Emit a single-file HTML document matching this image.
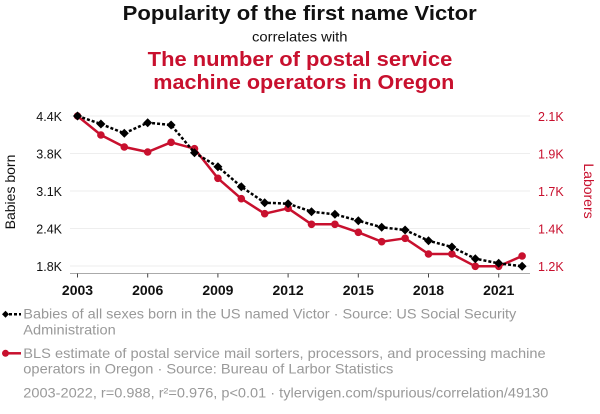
<!DOCTYPE html>
<html>
<head>
<meta charset="utf-8">
<style>
html,body{margin:0;padding:0;background:#fff;}
body{width:600px;height:414px;overflow:hidden;}
svg{display:block;font-family:"Liberation Sans",Arial,sans-serif;}
</style>
</head>
<body>
<svg width="600" height="414" viewBox="0 0 600 414" xmlns="http://www.w3.org/2000/svg">
  <!-- Titles -->
  <text x="122.7" y="20" font-size="20" font-weight="bold" fill="#111" textLength="354" lengthAdjust="spacingAndGlyphs">Popularity of the first name Victor</text>
  <text x="252" y="41.5" font-size="14" fill="#111" textLength="95.5" lengthAdjust="spacingAndGlyphs">correlates with</text>
  <text x="147.7" y="66" font-size="20" font-weight="bold" fill="#c8102e" textLength="304.6" lengthAdjust="spacingAndGlyphs">The number of postal service</text>
  <text x="153.3" y="89" font-size="20" font-weight="bold" fill="#c8102e" textLength="301" lengthAdjust="spacingAndGlyphs">machine operators in Oregon</text>

  <!-- Gridlines -->
  <g stroke="#eeeeee" stroke-width="1">
    <line x1="70" y1="116" x2="530" y2="116"/>
    <line x1="70" y1="153.5" x2="530" y2="153.5"/>
    <line x1="70" y1="191" x2="530" y2="191"/>
    <line x1="70" y1="228.5" x2="530" y2="228.5"/>
    <line x1="70" y1="266" x2="530" y2="266"/>
  </g>
  <!-- x axis -->
  <line x1="70" y1="273.5" x2="530" y2="273.5" stroke="#aaaaaa" stroke-width="1"/>
  <g stroke="#444" stroke-width="1">
    <line x1="77.5" y1="273.5" x2="77.5" y2="277.5"/>
    <line x1="147.7" y1="273.5" x2="147.7" y2="277.5"/>
    <line x1="217.9" y1="273.5" x2="217.9" y2="277.5"/>
    <line x1="288.1" y1="273.5" x2="288.1" y2="277.5"/>
    <line x1="358.3" y1="273.5" x2="358.3" y2="277.5"/>
    <line x1="428.5" y1="273.5" x2="428.5" y2="277.5"/>
    <line x1="498.7" y1="273.5" x2="498.7" y2="277.5"/>
  </g>
  <g font-size="14" font-weight="bold" fill="#111" text-anchor="middle">
    <text x="77.5" y="295">2003</text>
    <text x="147.7" y="295">2006</text>
    <text x="217.9" y="295">2009</text>
    <text x="288.1" y="295">2012</text>
    <text x="358.3" y="295">2015</text>
    <text x="428.5" y="295">2018</text>
    <text x="498.7" y="295">2021</text>
  </g>

  <!-- Left tick labels -->
  <g font-size="12.5" fill="#111" text-anchor="end">
    <text x="62" y="121">4.4K</text>
    <text x="62" y="158.5">3.8K</text>
    <text x="62" y="196">3.1K</text>
    <text x="62" y="233.5">2.4K</text>
    <text x="62" y="271">1.8K</text>
  </g>
  <!-- Right tick labels -->
  <g font-size="12.5" fill="#c8102e" text-anchor="start">
    <text x="538" y="121">2.1K</text>
    <text x="538" y="158.5">1.9K</text>
    <text x="538" y="196">1.7K</text>
    <text x="538" y="233.5">1.4K</text>
    <text x="538" y="271">1.2K</text>
  </g>

  <!-- Axis titles -->
  <text transform="translate(15,192) rotate(-90)" text-anchor="middle" font-size="14" fill="#111">Babies born</text>
  <text transform="translate(584,191) rotate(90)" text-anchor="middle" font-size="14" fill="#c8102e">Laborers</text>

  <!-- Red series -->
  <polyline fill="none" stroke="#c8102e" stroke-width="2.5" stroke-linejoin="round"
    points="77.5,116 100.9,135 124.3,147 147.7,152 171.1,142.3 194.5,148.7 217.9,178.3 241.3,198.7 264.7,213.7 288.1,208.3 311.5,224.3 334.9,224.3 358.3,232.3 381.7,241.7 405.1,238.3 428.5,254 451.9,254 475.3,266.3 498.7,266.3 522.1,256"/>
  <g fill="#c8102e">
    <circle cx="77.5" cy="116" r="3.8"/>
    <circle cx="100.9" cy="135" r="3.8"/>
    <circle cx="124.3" cy="147" r="3.8"/>
    <circle cx="147.7" cy="152" r="3.8"/>
    <circle cx="171.1" cy="142.3" r="3.8"/>
    <circle cx="194.5" cy="148.7" r="3.8"/>
    <circle cx="217.9" cy="178.3" r="3.8"/>
    <circle cx="241.3" cy="198.7" r="3.8"/>
    <circle cx="264.7" cy="213.7" r="3.8"/>
    <circle cx="288.1" cy="208.3" r="3.8"/>
    <circle cx="311.5" cy="224.3" r="3.8"/>
    <circle cx="334.9" cy="224.3" r="3.8"/>
    <circle cx="358.3" cy="232.3" r="3.8"/>
    <circle cx="381.7" cy="241.7" r="3.8"/>
    <circle cx="405.1" cy="238.3" r="3.8"/>
    <circle cx="428.5" cy="254" r="3.8"/>
    <circle cx="451.9" cy="254" r="3.8"/>
    <circle cx="475.3" cy="266.3" r="3.8"/>
    <circle cx="498.7" cy="266.3" r="3.8"/>
    <circle cx="522.1" cy="256" r="3.8"/>
  </g>

  <!-- Black series -->
  <polyline fill="none" stroke="#000" stroke-width="2.5" stroke-dasharray="3 2"
    points="77.5,116 100.9,124 124.3,133.3 147.7,122.7 171.1,125 194.5,152.7 217.9,166.7 241.3,186.7 264.7,202.7 288.1,203.7 311.5,211.7 334.9,214.3 358.3,220.7 381.7,227.3 405.1,230 428.5,240.7 451.9,247 475.3,258.7 498.7,263.3 522.1,266.3"/>
  <g fill="#000">
    <path d="M77.5,111.5 l4.5,4.5 l-4.5,4.5 l-4.5,-4.5z"/>
    <path d="M100.9,119.5 l4.5,4.5 l-4.5,4.5 l-4.5,-4.5z"/>
    <path d="M124.3,128.8 l4.5,4.5 l-4.5,4.5 l-4.5,-4.5z"/>
    <path d="M147.7,118.2 l4.5,4.5 l-4.5,4.5 l-4.5,-4.5z"/>
    <path d="M171.1,120.5 l4.5,4.5 l-4.5,4.5 l-4.5,-4.5z"/>
    <path d="M194.5,148.2 l4.5,4.5 l-4.5,4.5 l-4.5,-4.5z"/>
    <path d="M217.9,162.2 l4.5,4.5 l-4.5,4.5 l-4.5,-4.5z"/>
    <path d="M241.3,182.2 l4.5,4.5 l-4.5,4.5 l-4.5,-4.5z"/>
    <path d="M264.7,198.2 l4.5,4.5 l-4.5,4.5 l-4.5,-4.5z"/>
    <path d="M288.1,199.2 l4.5,4.5 l-4.5,4.5 l-4.5,-4.5z"/>
    <path d="M311.5,207.2 l4.5,4.5 l-4.5,4.5 l-4.5,-4.5z"/>
    <path d="M334.9,209.8 l4.5,4.5 l-4.5,4.5 l-4.5,-4.5z"/>
    <path d="M358.3,216.2 l4.5,4.5 l-4.5,4.5 l-4.5,-4.5z"/>
    <path d="M381.7,222.8 l4.5,4.5 l-4.5,4.5 l-4.5,-4.5z"/>
    <path d="M405.1,225.5 l4.5,4.5 l-4.5,4.5 l-4.5,-4.5z"/>
    <path d="M428.5,236.2 l4.5,4.5 l-4.5,4.5 l-4.5,-4.5z"/>
    <path d="M451.9,242.5 l4.5,4.5 l-4.5,4.5 l-4.5,-4.5z"/>
    <path d="M475.3,254.2 l4.5,4.5 l-4.5,4.5 l-4.5,-4.5z"/>
    <path d="M498.7,258.8 l4.5,4.5 l-4.5,4.5 l-4.5,-4.5z"/>
    <path d="M522.1,261.8 l4.5,4.5 l-4.5,4.5 l-4.5,-4.5z"/>
  </g>

  <!-- Legend -->
  <line x1="4" y1="314.3" x2="21" y2="314.3" stroke="#000" stroke-width="2.5" stroke-dasharray="3 2"/>
  <path d="M5.5,310.8 l3.5,3.5 l-3.5,3.5 l-3.5,-3.5z" fill="#000"/>
  <g font-size="14" fill="#999999">
    <text x="23.3" y="318.5" textLength="493" lengthAdjust="spacingAndGlyphs">Babies of all sexes born in the US named Victor · Source: US Social Security</text>
    <text x="23.3" y="334.5" textLength="92.4" lengthAdjust="spacingAndGlyphs">Administration</text>
  </g>
  <line x1="5" y1="353.3" x2="21" y2="353.3" stroke="#c8102e" stroke-width="2.5"/>
  <circle cx="5.5" cy="353.3" r="3.5" fill="#c8102e"/>
  <g font-size="14" fill="#999999">
    <text x="23.3" y="358" textLength="522.4" lengthAdjust="spacingAndGlyphs">BLS estimate of postal service mail sorters, processors, and processing machine</text>
    <text x="23.3" y="373.5" textLength="370" lengthAdjust="spacingAndGlyphs">operators in Oregon · Source: Bureau of Larbor Statistics</text>
    <text x="23.3" y="397.5" textLength="525" lengthAdjust="spacingAndGlyphs">2003-2022, r=0.988, r²=0.976, p&lt;0.01 · tylervigen.com/spurious/correlation/49130</text>
  </g>
</svg>
</body>
</html>
